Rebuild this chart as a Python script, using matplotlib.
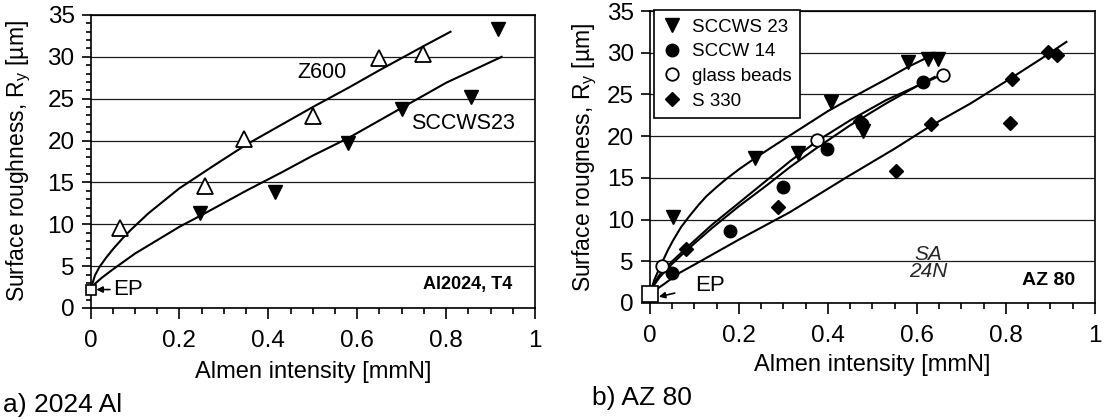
import numpy as np
import matplotlib
matplotlib.use('Agg')
import matplotlib.pyplot as plt
from matplotlib.ticker import MultipleLocator, FixedLocator

plt.rcParams['font.family'] = ['Liberation Sans', 'DejaVu Sans']
plt.rcParams['mathtext.default'] = 'regular'

# ---- a) 2024 Al
z600_x = [0.066, 0.258, 0.345, 0.501, 0.65, 0.747]
z600_y = [9.5, 14.6, 20.2, 22.9, 29.9, 30.4]
sccws_al_x = [0.246, 0.415, 0.58, 0.70, 0.857, 0.917]
sccws_al_y = [11.4, 13.9, 19.7, 23.8, 25.2, 33.3]
ep_al_x = [0.0]
ep_al_y = [2.2]
# fitted curves (traced)
z600_fit_x = [0, 0.01, 0.02, 0.035, 0.05, 0.07, 0.09, 0.13, 0.2, 0.28, 0.35, 0.43, 0.5, 0.58, 0.65, 0.75, 0.81]
z600_fit_y = [2.2, 3.9, 4.9, 6.0, 7.0, 8.2, 9.3, 11.3, 14.3, 17.1, 19.5, 21.9, 24.0, 26.3, 28.4, 31.3, 33.0]
sccws_al_fit_x = [0, 0.01, 0.025, 0.05, 0.1, 0.15, 0.2, 0.25, 0.35, 0.43, 0.5, 0.58, 0.7, 0.8, 0.925]
sccws_al_fit_y = [2.2, 2.9, 3.6, 4.6, 6.5, 8.1, 9.7, 11.1, 14.0, 16.2, 18.2, 20.3, 23.9, 26.9, 30.0]

# ---- b) AZ 80
sccws_x = [0.051, 0.236, 0.332, 0.408, 0.479, 0.581, 0.626, 0.648]
sccws_y = [10.3, 17.4, 18.0, 24.1, 20.6, 28.9, 29.2, 29.2]
sccw14_x = [0.049, 0.18, 0.298, 0.397, 0.476, 0.614]
sccw14_y = [3.6, 8.6, 13.9, 18.4, 21.4, 26.5]
glass_x = [0.028, 0.376, 0.659]
glass_y = [4.4, 19.5, 27.3]
s330_x = [0.080, 0.287, 0.472, 0.554, 0.631, 0.809, 0.813, 0.895, 0.914]
s330_y = [6.5, 11.5, 21.8, 15.8, 21.4, 21.6, 26.9, 30.1, 29.7]
ep_az_x = [0.0]
ep_az_y = [1.1]
sccws_fit_x = [0, 0.01, 0.025, 0.04, 0.052, 0.07, 0.09, 0.11, 0.127, 0.15, 0.17, 0.202, 0.24, 0.315, 0.4, 0.464, 0.53, 0.58, 0.63]
sccws_fit_y = [1.1, 2.8, 4.6, 6.3, 7.5, 9.1, 10.5, 11.8, 12.8, 13.9, 14.8, 16.1, 17.5, 20.1, 23.0, 24.9, 26.8, 28.3, 29.6]
glass_fit_x = [0, 0.01, 0.022, 0.05, 0.082, 0.14, 0.2, 0.26, 0.315, 0.378, 0.45, 0.53, 0.6, 0.659]
glass_fit_y = [1.1, 2.4, 3.4, 5.0, 6.6, 9.4, 12.0, 14.6, 17.0, 19.5, 21.9, 24.3, 26.0, 27.4]
sccw14_fit_x = [0, 0.01, 0.022, 0.05, 0.082, 0.14, 0.2, 0.26, 0.315, 0.378, 0.45, 0.53, 0.6, 0.64]
sccw14_fit_y = [1.1, 2.2, 3.1, 4.7, 6.3, 9.0, 11.6, 14.0, 16.3, 18.7, 21.3, 23.9, 26.0, 27.1]
s330_fit_x = [0, 0.03, 0.066, 0.1, 0.2, 0.315, 0.446, 0.55, 0.63, 0.72, 0.81, 0.88, 0.936]
s330_fit_y = [1.1, 2.2, 3.6, 4.6, 7.6, 10.9, 15.2, 18.5, 21.2, 23.9, 26.9, 29.3, 31.3]

xticklabels = ['0', '0.2', '0.4', '0.6', '0.8', '1']

fig = plt.figure(figsize=(11.11, 4.2), dpi=100)
ax1 = fig.add_axes([0.0815, 0.2667, 0.4, 0.6976])
ax2 = fig.add_axes([0.585, 0.2786, 0.4005, 0.6952])

lw_fit = 1.5


def setup(ax, ylabel, ylabel_x, xlabel_y, yminor):
    ax.set_xlim(0, 1)
    ax.set_ylim(0, 35)
    ax.xaxis.set_major_locator(FixedLocator([0, 0.2, 0.4, 0.6, 0.8, 1.0]))
    ax.set_xticklabels(xticklabels)
    ax.xaxis.set_minor_locator(MultipleLocator(0.05))
    ax.yaxis.set_major_locator(MultipleLocator(5))
    if yminor:
        ax.yaxis.set_minor_locator(MultipleLocator(1))
    ax.tick_params(axis='x', which='major', direction='out', length=8, width=1.2,
                   pad=8, labelsize=17.5)
    ax.tick_params(axis='x', which='minor', direction='out', length=4, width=1.2)
    ax.tick_params(axis='y', which='major', direction='out', length=6.5, width=1.2,
                   pad=5, labelsize=17.5)
    ax.tick_params(axis='y', which='minor', direction='out', length=3.5, width=1.2)
    for s in ax.spines.values():
        s.set_linewidth(1.2)
    ax.grid(axis='y', which='major', color='0.1', linewidth=0.9)
    ax.set_axisbelow(True)
    ax.set_xlabel('Almen intensity [mmN]', fontsize=17)
    ax.xaxis.set_label_coords(0.5, xlabel_y)
    ax.xaxis.label.set_va('center')
    ax.set_ylabel(ylabel, fontsize=16.5)
    ax.yaxis.set_label_coords(ylabel_x, 0.5)
    ax.yaxis.label.set_va('center')


setup(ax1, 'Surface roughness, R$_y$ [µm]', -0.161, -0.218, True)
setup(ax2, 'Surface rougness, R$_y$ [µm]', -0.146, -0.212, False)

# ---- panel a
ax1.plot(z600_fit_x, z600_fit_y, color='black', lw=lw_fit, zorder=3)
ax1.plot(sccws_al_fit_x, sccws_al_fit_y, color='black', lw=lw_fit, zorder=3)
ax1.plot(z600_x, z600_y, linestyle='none', marker='^', ms=11, mfc='white',
         mec='black', mew=1.3, zorder=4)
ax1.plot(sccws_al_x, sccws_al_y, linestyle='none', marker='v', ms=10.5, color='black', zorder=4)
ax1.plot(ep_al_x, ep_al_y, linestyle='none', marker='s', ms=7, mfc='white',
         mec='black', mew=1.2, zorder=5, clip_on=False)

ax1.text(0.52, 28.1, 'Z600', ha='center', va='center', fontsize=15.5)
ax1.text(0.722, 22.0, 'SCCWS23', ha='left', va='center', fontsize=15.5)
ax1.text(0.948, 2.75, 'Al2024, T4', ha='right', va='center', fontsize=13, weight='bold')
ax1.annotate('EP', xy=(0.013, 2.2), xytext=(0.05, 2.2), ha='left', va='center', fontsize=16,
             arrowprops=dict(arrowstyle='-|>', color='black', lw=1.2,
                             mutation_scale=9, shrinkA=0, shrinkB=0))

# ---- panel b
for fx, fy in [(sccws_fit_x, sccws_fit_y), (glass_fit_x, glass_fit_y),
               (sccw14_fit_x, sccw14_fit_y), (s330_fit_x, s330_fit_y)]:
    ax2.plot(fx, fy, color='black', lw=lw_fit, zorder=3)

ax2.plot(sccws_x, sccws_y, linestyle='none', marker='v', ms=10.5, color='black',
         zorder=4, label='SCCWS 23')
ax2.plot(sccw14_x, sccw14_y, linestyle='none', marker='o', ms=9, color='black',
         zorder=4, label='SCCW 14')
ax2.plot(glass_x, glass_y, linestyle='none', marker='o', ms=9, mfc='white',
         mec='black', mew=1.3, zorder=4, label='glass beads')
ax2.plot(s330_x, s330_y, linestyle='none', marker='D', ms=7, color='black',
         zorder=4, label='S 330')
ax2.plot(ep_az_x, ep_az_y, linestyle='none', marker='s', ms=11, mfc='white',
         mec='black', mew=1.2, zorder=5, clip_on=False)

ax2.text(0.955, 2.75, 'AZ 80', ha='right', va='center', fontsize=14, weight='bold')
ax2.text(0.625, 4.8, 'SA\n24N', ha='center', va='center', fontsize=15,
         linespacing=0.85, color='0.15', style='italic')
ax2.annotate('EP', xy=(0.02, 0.75), xytext=(0.135, 2.15), ha='center', va='center',
             fontsize=16,
             arrowprops=dict(arrowstyle='-|>', color='black', lw=1.2,
                             mutation_scale=9, shrinkA=13, shrinkB=0))

leg = ax2.legend(loc='upper left', bbox_to_anchor=(0.009, 1.003), borderaxespad=0,
                 fontsize=13.5, handlelength=1.0, handletextpad=0.6, labelspacing=0.4,
                 borderpad=0.45, fancybox=False, framealpha=1, edgecolor='black')
leg.get_frame().set_linewidth(1.2)
leg.set_zorder(10)

fig.text(0.003, (420 - 405) / 420, 'a) 2024 Al', ha='left', va='center', fontsize=19)
fig.text(0.533, (420 - 398) / 420, 'b) AZ 80', ha='left', va='center', fontsize=19)

fig.savefig('out.png', dpi=100)
